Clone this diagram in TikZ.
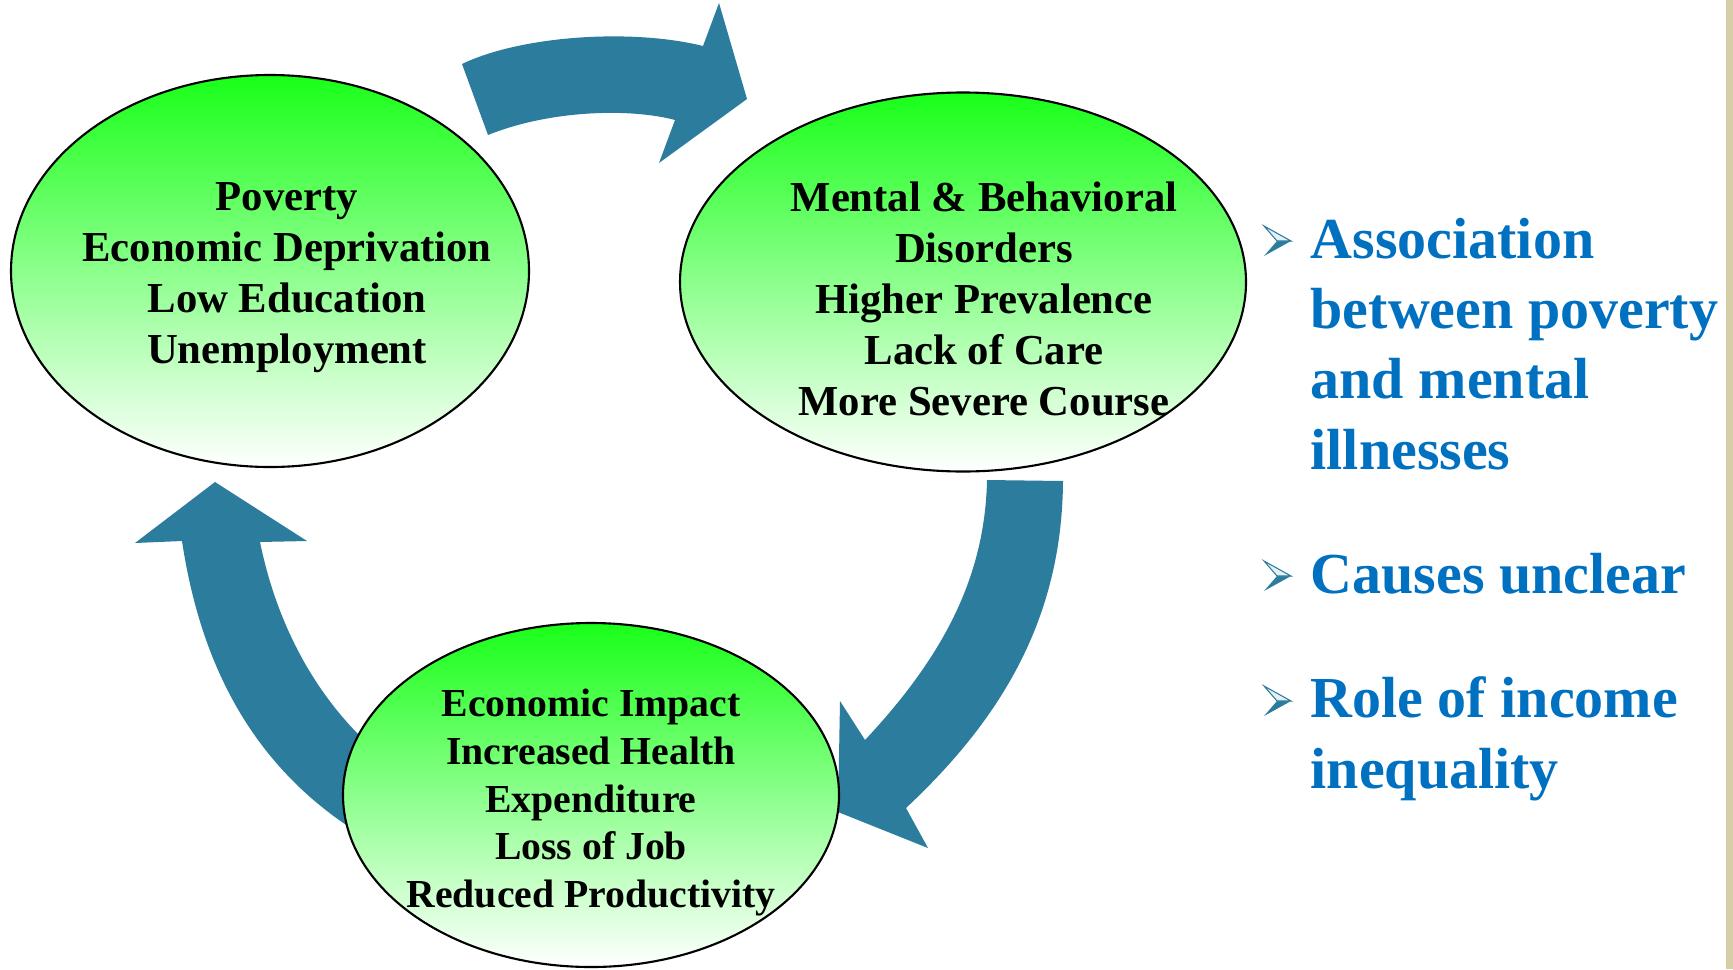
\documentclass[tikz,border=0pt]{standalone}
\usepackage{fontspec}
\setmainfont{Liberation Serif}
\usetikzlibrary{shapes.geometric}
\definecolor{ArrowClr}{RGB}{44,124,158}
\definecolor{GreenClr}{RGB}{25,255,25}
\definecolor{PointClr}{RGB}{0,112,192}
\definecolor{StripClr}{RGB}{214,206,166}

\tikzset{
  bubble/.style={ellipse,draw=black,line width=0.6pt,top color=GreenClr,bottom color=white,inner sep=0pt},
  bubbletext/.style={align=center,font=\bfseries\fontsize{12.15}{14.5}\selectfont},
  point/.style={anchor=base west,align=left,inner sep=0pt,text=PointClr,font=\bfseries\fontsize{16.5}{20}\selectfont},
  arrowbullet/.pic={
    \fill[ArrowClr] (0,0) -- (0.14,0) -- (-0.13,-0.15) -- cycle;
    \filldraw[fill=ArrowClr!12,draw=ArrowClr,line width=0.3pt] (0,0) -- (0.14,0) -- (-0.13,0.15) -- cycle;
  }
}

\begin{document}
\begin{tikzpicture}
\useasboundingbox (0,0) rectangle (17.33,9.69);
\fill[white] (0,0) rectangle (17.33,9.69);
\fill[StripClr] (17.26,0) rectangle (17.33,9.69);

% the three curved arrows of the cycle
\fill[ArrowClr] (4.62,9.05) .. controls (5.20,9.33) and (6.30,9.41) .. (7.03,9.23)
  -- (7.19,9.66) -- (7.47,8.70) -- (6.59,8.06) -- (6.75,8.49)
  .. controls (6.30,8.61) and (5.50,8.59) .. (4.88,8.34) -- cycle;
\fill[ArrowClr] (10.63,4.88) .. controls (10.62,3.49) and (10.00,2.49) .. (9.06,1.61)
  -- (9.28,1.21) -- (8.38,1.57) -- (8.40,2.68) -- (8.65,2.29)
  .. controls (9.40,3.09) and (9.85,3.89) .. (9.87,4.89) -- cycle;
\fill[ArrowClr] (2.15,4.87) -- (3.07,4.28) -- (2.60,4.27)
  .. controls (2.80,3.29) and (3.30,2.49) .. (4.00,1.99) -- (3.70,1.29)
  .. controls (2.50,1.99) and (2.00,3.09) .. (1.82,4.28) -- (1.35,4.26) -- cycle;

\node[bubble,minimum width=5.18cm,minimum height=3.92cm] (poverty) at (2.70,6.98) {};
\node[bubble,minimum width=5.66cm,minimum height=3.79cm] (mental) at (9.63,6.87) {};
\node[bubble,minimum width=4.96cm,minimum height=3.44cm] (impact) at (5.91,1.74) {};

\node[bubbletext] (povertytext) at (2.87,6.915)
  {Poverty\\Economic Deprivation\\Low Education\\Unemployment};
\node[bubbletext] (mentaltext) at (9.84,6.70)
  {Mental \& Behavioral\\Disorders\\Higher Prevalence\\Lack of Care\\More Severe Course};
\node[bubbletext,font=\bfseries\fontsize{11.3}{13.65}\selectfont] (impacttext) at (5.91,1.665)
  {Economic Impact\\Increased Health\\Expenditure\\Loss of Job\\Reduced Productivity};

\node[point] (assoc) at (13.10,5.00) {Association\\between poverty\\and mental\\illnesses};
\node[point] (causes) at (13.10,3.76) {Causes unclear};
\node[point] (role) at (13.10,1.81) {Role of income\\inequality};

\pic at (12.77,7.28) {arrowbullet};
\pic at (12.77,3.93) {arrowbullet};
\pic at (12.77,2.68) {arrowbullet};
\end{tikzpicture}
\end{document}
